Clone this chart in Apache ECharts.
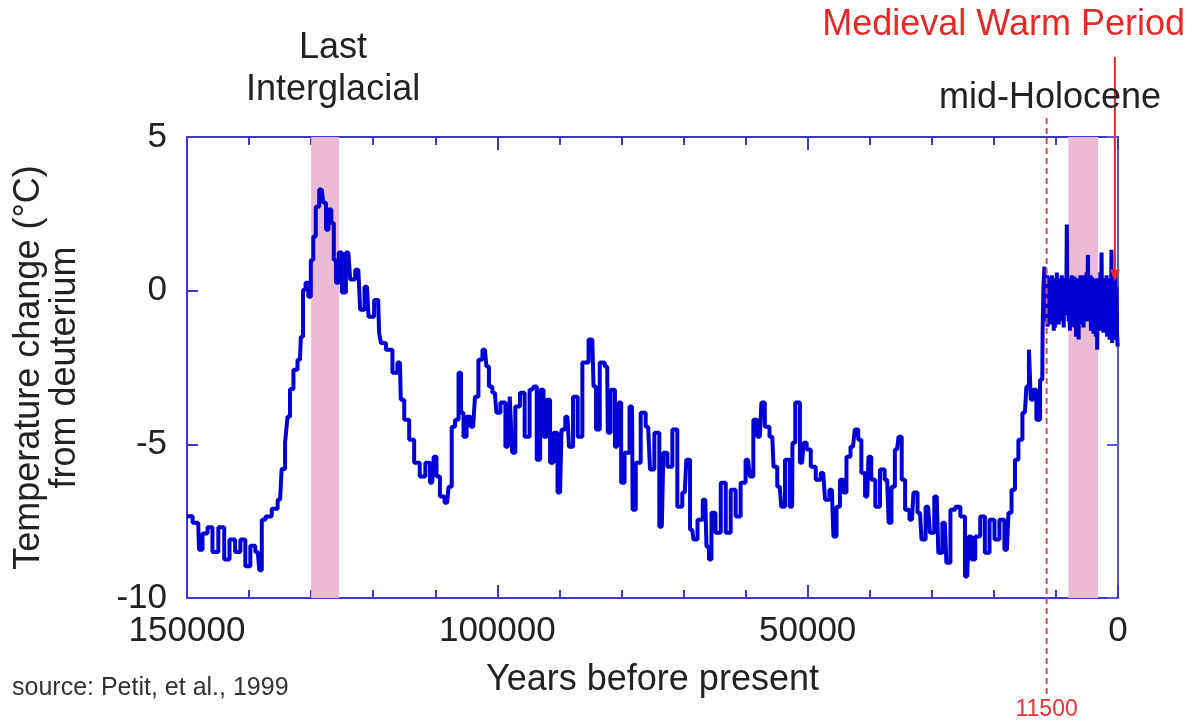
<!DOCTYPE html>
<html><head><meta charset="utf-8">
<script src="https://cdn.jsdelivr.net/npm/echarts@6/dist/echarts.min.js"></script>
<style>html,body{margin:0;padding:0;background:#fff}#c{width:1194px;height:723px}</style>
</head><body><div id="c"></div>
<script>
// Years before present (glacial record up to the Holocene onset)
const years = [150000,148200,147900,147100,146300,145500,144400,143600,142700,141800,141000,140200,139400,138600,138100,137800,136900,135800,135000,134500,133900,133700,133100,132600,131800,131500,131100,130700,130200,129900,129400,129100,128300,127800,127400,127000,126500,126200,125800,125300,124800,124000,123400,122400,121800,121000,120500,119200,118900,118600,117300,116500,115700,115400,114600,113800,113000,112000,111200,110500,110000,109600,108900,108100,107600,107100,106500,106000,105700,105200,104700,103900,103300,102800,102000,101500,101200,100400,99900,99100,98300,97700,97500,96700,96000,95200,94400,93900,93400,92800,92300,91800,91200,90700,89900,89400,88700,88200,87400,86700,85900,84700,84300,83900,83100,82300,82100,81400,80700,80200,79900,79100,78300,78100,77300,76500,75700,75100,74300,73500,73000,72200,71400,70600,69800,69300,68600,68200,67300,66500,66100,65700,65300,64400,63600,62800,62000,61200,60400,59600,59000,58500,57700,57200,56600,55700,55300,54500,54000,53300,52500,52400,51600,50900,50400,49900,49100,48300,47500,46900,46100,45600,45100,44500,44000,43500,42700,42100,41600,41100,40400,40000,39500,38700,38000,37200,36700,36300,35600,35100,34600,34000,33200,32700,31900,31400,30600,30000,29200,28700,27900,27400,26600,25800,25000,24300,23800,23400,22600,21800,21100,20300,19500,18700,17900,17400,16900,16300,15800,15000,14500,14200,13900,13400,12900,12200,12100,11900];
// Temperature change (°C) from deuterium
const temps = [-7.34,-7.55,-8.43,-7.9,-7.7,-8.5,-7.7,-8.75,-8.1,-8.5,-8.1,-8.97,-8.3,-8.5,-9.1,-7.45,-7.35,-7.1,-6.8,-5.8,-4.95,-4.1,-3.2,-2.57,-2.25,-1.5,0.03,0.26,-0.2,1.0,1.76,2.73,3.29,2.86,1.98,2.64,2.2,1.0,0.26,1.24,-0.06,1.24,0.36,0.68,-0.62,0.13,-0.85,-0.3,-1.37,-1.7,-1.92,-2.67,-2.34,-3.55,-4.2,-4.85,-5.6,-6.05,-5.6,-6.25,-5.4,-6.05,-6.7,-6.9,-6.38,-4.43,-4.2,-2.67,-3.97,-4.75,-4.1,-4.43,-3.45,-2.25,-1.92,-2.47,-3.12,-3.32,-3.97,-3.64,-5.08,-3.45,-5.27,-3.77,-3.32,-4.75,-3.22,-3.12,-5.5,-3.22,-4.75,-3.55,-5.6,-4.62,-6.57,-4.52,-4.1,-5.08,-3.45,-4.75,-2.34,-1.59,-3.12,-4.52,-2.34,-2.47,-4.62,-3.22,-5.08,-3.64,-6.25,-5.27,-3.77,-7.13,-5.6,-3.97,-4.43,-5.82,-4.62,-7.68,-5.27,-5.73,-4.52,-7.03,-6.57,-5.5,-7.78,-8.1,-7.45,-6.8,-8.33,-8.75,-7.23,-7.88,-6.25,-7.88,-6.48,-7.35,-6.25,-5.5,-6.05,-4.2,-4.75,-3.64,-4.43,-4.75,-5.73,-6.38,-7.03,-5.5,-7.03,-4.95,-3.64,-5.6,-4.95,-5.17,-5.73,-6.15,-5.93,-6.8,-6.48,-8.0,-7.03,-6.15,-6.57,-5.4,-5.08,-4.52,-4.85,-5.93,-6.7,-5.4,-6.15,-7.03,-5.82,-6.15,-7.55,-6.38,-5.17,-4.75,-6.15,-7.13,-7.45,-6.57,-7.23,-8.1,-7.03,-7.88,-6.7,-8.53,-7.55,-8.85,-7.13,-7.03,-7.35,-9.3,-8.0,-8.75,-8.0,-7.35,-8.53,-7.45,-8.1,-7.45,-8.43,-7.23,-6.48,-5.5,-4.85,-3.97,-3.12,-1.92,-3.55,-3.22,-4.2,-2.9,-1.37,0.2];
// Holocene record (dense, 100-year spacing)
const holoYears = [11800,11700,11600,11500,11400,11300,11200,11100,11000,10900,10800,10700,10600,10500,10400,10300,10200,10100,10000,9900,9800,9700,9600,9500,9400,9300,9200,9100,9000,8900,8800,8700,8600,8500,8400,8300,8200,8100,8000,7900,7800,7700,7600,7500,7400,7300,7200,7100,7000,6900,6800,6700,6600,6500,6400,6300,6200,6100,6000,5900,5800,5700,5600,5500,5400,5300,5200,5100,5000,4900,4800,4700,4600,4500,4400,4300,4200,4100,4000,3900,3800,3700,3600,3500,3400,3300,3200,3100,3000,2900,2800,2700,2600,2500,2400,2300,2200,2100,2000,1900,1800,1700,1600,1500,1400,1300,1200,1100,1000,900,800,700,600,500,400,300,200,100,0];
const holoTemps = [0.78,-0.6,0.4,-1.0,0.5,-1.17,0.3,-0.9,0.46,-1.1,0.3,-0.8,0.5,-0.85,0.2,-1.3,0.4,-1.2,0.3,-0.7,0.59,-0.9,0.3,-1.1,0.4,-0.62,0.2,-1.0,0.5,-0.9,0.3,-1.2,0.4,-0.7,0.36,-0.8,2.15,-0.72,0.4,-1.0,0.3,-1.3,0.2,-0.9,0.5,-1.17,0.3,-0.8,0.46,-1.2,0.2,-1.5,0.3,-1.0,0.4,-1.59,0.2,-0.9,0.5,-1.1,0.3,-0.6,0.5,-1.2,0.2,-0.8,0.4,-1.0,0.6,-0.9,1.17,-1.0,0.4,-0.8,0.5,-1.3,0.46,-0.9,0.3,-1.4,0.2,-1.0,0.4,-1.5,0.2,-1.92,0.3,-1.2,0.4,-1.0,0.6,-1.3,1.24,-0.9,0.3,-1.37,0.4,-1.1,0.2,-1.2,0.5,-1.5,0.13,-1.3,0.4,-1.6,0.3,-1.0,1.33,-1.7,0.2,-1.4,0.3,-1.6,0.5,-1.2,0.13,-1.4,-1.82];
const xTickLabels = [0, 50000, 100000, 150000];
const yTickLabels = [5, 0, -5, -10];
const bands = [
  {name: 'Last Interglacial', from: 130000, to: 125500},
  {name: 'mid-Holocene', from: 8000, to: 3200}
];
const holoceneStart = 11500;
const medievalYear = 500, medievalTemp = 0.3;

const FONT = 'Liberation Sans, Arial, Helvetica, sans-serif';
const AX = '#3a3ad0';
const chart = echarts.init(document.getElementById('c'));
const allYears = years.concat(holoYears);
const allTemps = temps.concat(holoTemps);
const data = allYears.map((y, i) => [y, allTemps[i]]);

chart.setOption({
  animation: false,
  backgroundColor: '#fff',
  grid: {left: 187, right: 76, top: 137, bottom: 125, containLabel: false, outerBoundsMode: 'none'},
  xAxis: [{
    type: 'value', min: 0, max: 150000, interval: 50000, inverse: true, position: 'bottom',
    axisLine: {onZero: false, lineStyle: {color: AX, width: 2}},
    axisTick: {inside: true, length: 13, lineStyle: {color: AX, width: 2}},
    minorTick: {show: true, splitNumber: 5, length: 8, lineStyle: {color: AX, width: 2}},
    splitLine: {show: false},
    axisLabel: {fontFamily: FONT, fontSize: 35, color: '#222', margin: 16,
      formatter: v => xTickLabels.includes(v) ? String(v) : ''},
    name: 'Years before present', nameLocation: 'middle', nameGap: 64,
    nameTextStyle: {fontFamily: FONT, fontSize: 36, color: '#222'}
  }, {
    type: 'value', min: 0, max: 150000, interval: 50000, inverse: true, position: 'top',
    axisLine: {onZero: false, lineStyle: {color: AX, width: 2}},
    axisTick: {inside: true, length: 13, lineStyle: {color: AX, width: 2}},
    minorTick: {show: true, splitNumber: 5, length: 8, lineStyle: {color: AX, width: 2}},
    splitLine: {show: false}, axisLabel: {show: false}
  }],
  yAxis: [{
    type: 'value', min: -10, max: 5, interval: 5, position: 'left',
    axisLine: {show: true, onZero: false, lineStyle: {color: AX, width: 2}},
    axisTick: {show: true, inside: true, length: 11, lineStyle: {color: AX, width: 2}},
    splitLine: {show: false},
    axisLabel: {fontFamily: FONT, fontSize: 35, color: '#222', margin: 20,
      formatter: v => yTickLabels.includes(v) ? String(v) : ''},
    name: 'Temperature change (°C)\nfrom deuterium', nameLocation: 'middle', nameRotate: 90, nameGap: 104,
    nameTextStyle: {fontFamily: FONT, fontSize: 36, color: '#222', lineHeight: 36, align: 'center'}
  }, {
    type: 'value', min: -10, max: 5, interval: 5, position: 'right',
    axisLine: {show: true, onZero: false, lineStyle: {color: '#5a5ad8', width: 2}},
    axisTick: {show: true, inside: true, length: 11, lineStyle: {color: '#5a5ad8', width: 2}},
    splitLine: {show: false}, axisLabel: {show: false}
  }],
  series: [{
    type: 'line', data: [], z: 1, silent: true,
    markArea: {silent: true, itemStyle: {color: '#ebbad6'},
      data: bands.map(b => [{xAxis: b.from, yAxis: 5}, {xAxis: b.to, yAxis: -10}])}
  }, {
    type: 'line', data: data, z: 3, showSymbol: false, step: 'middle',
    lineStyle: {color: '#0000d4', width: 4}
  }]
});

const px = (y, t) => chart.convertToPixel({xAxisIndex: 0, yAxisIndex: 0}, [y, t]);
const xh = px(holoceneStart, 0)[0];
const mw = px(medievalYear, medievalTemp);
const li = px((bands[0].from + bands[0].to) / 2, 5);
const RED = '#e62828';
chart.setOption({
  graphic: [
    {type: 'line', shape: {x1: xh, y1: 118, x2: xh, y2: 694}, z: 10,
      style: {stroke: '#f04848', lineWidth: 2, lineDash: [6, 4]}},
    {type: 'text', x: xh, y: 710, z: 10,
      style: {text: '11500', fill: '#f03030', font: '23px ' + FONT, textAlign: 'center', textVerticalAlign: 'middle'}},
    {type: 'line', shape: {x1: mw[0], y1: 57, x2: mw[0], y2: mw[1] - 10}, z: 10,
      style: {stroke: RED, lineWidth: 2}},
    {type: 'polygon', z: 10, shape: {points: [[mw[0] - 5, mw[1] - 12], [mw[0] + 5, mw[1] - 12], [mw[0], mw[1]]]},
      style: {fill: RED}},
    {type: 'text', x: 1185, y: 25, z: 10,
      style: {text: 'Medieval Warm Period', fill: RED, font: '36px ' + FONT, textAlign: 'right', textVerticalAlign: 'middle'}},
    {type: 'text', x: 1050, y: 98, z: 10,
      style: {text: 'mid-Holocene', fill: '#222', font: '36px ' + FONT, textAlign: 'center', textVerticalAlign: 'middle'}},
    {type: 'text', x: li[0] + 8, y: 48, z: 10,
      style: {text: 'Last', fill: '#222', font: '36px ' + FONT, textAlign: 'center', textVerticalAlign: 'middle'}},
    {type: 'text', x: li[0] + 8, y: 90, z: 10,
      style: {text: 'Interglacial', fill: '#222', font: '36px ' + FONT, textAlign: 'center', textVerticalAlign: 'middle'}},
    {type: 'text', x: 12, y: 688, z: 10,
      style: {text: 'source: Petit, et al., 1999', fill: '#333', font: '25px ' + FONT, textAlign: 'left', textVerticalAlign: 'middle'}}
  ]
});
</script>
</body></html>
